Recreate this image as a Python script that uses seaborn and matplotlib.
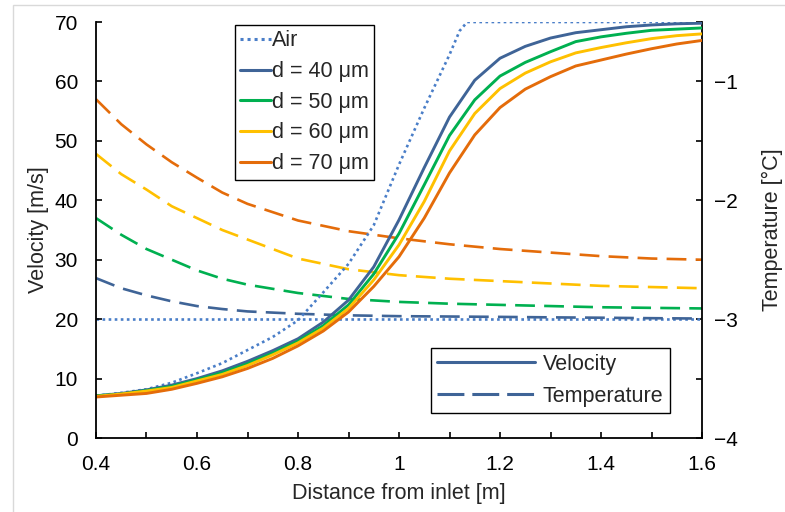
import numpy as np
import pandas as pd
import seaborn as sns
import matplotlib
matplotlib.use("Agg")
import matplotlib.pyplot as plt
from matplotlib.lines import Line2D
from matplotlib.patches import Rectangle
from matplotlib.ticker import MultipleLocator

# ---------------- data ----------------
x = [0.4, 0.45, 0.5, 0.55, 0.6, 0.65, 0.7, 0.75, 0.8, 0.85, 0.9, 0.95, 1.0, 1.05,
     1.1, 1.15, 1.2, 1.25, 1.3, 1.35, 1.4, 1.45, 1.5, 1.55, 1.6]
vel_d40 = [7.1, 7.5, 8.1, 8.9, 10.0, 11.3, 12.9, 14.7, 16.7, 19.5, 23.2, 28.8, 36.7, 45.5,
           54.0, 60.2, 63.9, 65.9, 67.3, 68.2, 68.7, 69.2, 69.5, 69.7, 69.8]
vel_d50 = [7.1, 7.4, 8.0, 8.7, 9.8, 11.0, 12.5, 14.3, 16.3, 18.9, 22.4, 27.6, 34.4, 42.6,
           50.9, 56.9, 60.9, 63.2, 65.0, 66.7, 67.5, 68.1, 68.6, 68.8, 69.0]
vel_d60 = [7.0, 7.4, 7.9, 8.5, 9.6, 10.7, 12.2, 14.0, 16.0, 18.5, 21.8, 26.6, 32.5, 39.8,
           48.3, 54.6, 58.8, 61.4, 63.3, 64.8, 65.7, 66.5, 67.2, 67.7, 68.0]
vel_d70 = [6.9, 7.2, 7.5, 8.2, 9.2, 10.3, 11.7, 13.4, 15.5, 18.0, 21.2, 25.5, 30.5, 37.0,
           44.6, 51.0, 55.6, 58.7, 60.8, 62.6, 63.6, 64.6, 65.5, 66.3, 66.9]

x_air = [0.4, 0.45, 0.5, 0.55, 0.6, 0.65, 0.7, 0.75, 0.8, 0.85, 0.9, 0.95, 1.0, 1.05,
         1.1, 1.12, 1.135, 1.6]
vel_air = [7.1, 7.6, 8.2, 9.3, 10.9, 12.6, 14.8, 17.0, 19.8, 24.5, 29.3, 35.8, 46.0, 55.5,
           64.5, 68.5, 70.0, 70.0]

x_t = [0.4, 0.45, 0.5, 0.55, 0.6, 0.65, 0.7, 0.8, 0.9, 1.0, 1.1, 1.2, 1.3, 1.4, 1.5, 1.6]
temp_air = [-3.0] * len(x_t)
temp_d40 = [-2.655, -2.74, -2.80, -2.85, -2.89, -2.915, -2.935, -2.955, -2.968, -2.975,
            -2.978, -2.981, -2.985, -2.988, -2.992, -2.995]
temp_d50 = [-2.15, -2.29, -2.41, -2.50, -2.59, -2.66, -2.71, -2.78, -2.83, -2.855,
            -2.87, -2.88, -2.89, -2.90, -2.905, -2.91]
temp_d60 = [-1.61, -1.78, -1.91, -2.05, -2.15, -2.25, -2.33, -2.49, -2.58, -2.63,
            -2.66, -2.68, -2.70, -2.72, -2.73, -2.74]
temp_d70 = [-1.15, -1.36, -1.53, -1.68, -1.81, -1.935, -2.03, -2.17, -2.26, -2.32,
            -2.37, -2.41, -2.44, -2.47, -2.49, -2.50]

series_names = ["Air", "d = 40 μm", "d = 50 μm", "d = 60 μm", "d = 70 μm"]
x_ticks = [0.4, 0.6, 0.8, 1.0, 1.2, 1.4, 1.6]
x_tick_labels = ["0.4", "0.6", "0.8", "1", "1.2", "1.4", "1.6"]
v_ticks = [0, 10, 20, 30, 40, 50, 60, 70]
t_ticks = [-4, -3, -2, -1]

# ---------------- style ----------------
sns.set_style("ticks")
plt.rcParams["font.family"] = ["Liberation Sans", "DejaVu Sans"]
plt.rcParams["axes.unicode_minus"] = True

colors = {
    "Air": "#4A7EC8",
    "d = 40 μm": "#3F6497",
    "d = 50 μm": "#00B050",
    "d = 60 μm": "#FFC000",
    "d = 70 μm": "#E46C0A",
}
FS_TICK = 15
FS = 15.5
LW = 1.9
DASH = (0, (7.5, 3.5))
DOT = (0, (1.0, 1.3))

fig = plt.figure(figsize=(7.85, 5.12), dpi=100)
ax = fig.add_axes([96 / 785, 1 - 438 / 512, 606 / 785, 416 / 512])
ax2 = ax.twinx()

vel_sets = [(x_air, vel_air), (x, vel_d40), (x, vel_d50), (x, vel_d60), (x, vel_d70)]
temp_sets = [temp_air, temp_d40, temp_d50, temp_d60, temp_d70]

for name, tv in zip(series_names, temp_sets):
    df = pd.DataFrame({"x": x_t, "y": tv})
    ls = DOT if name == "Air" else DASH
    sns.lineplot(data=df, x="x", y="y", ax=ax2, color=colors[name], lw=LW,
                 linestyle=ls, legend=False, estimator=None, sort=False)

for name, (xs, vs) in zip(series_names, vel_sets):
    df = pd.DataFrame({"x": xs, "y": vs})
    ls = DOT if name == "Air" else "-"
    sns.lineplot(data=df, x="x", y="y", ax=ax, color=colors[name],
                 lw=LW if name == "Air" else 2.1,
                 linestyle=ls, legend=False, estimator=None, sort=False)

ax.set_zorder(ax2.get_zorder() + 1)
ax.patch.set_visible(False)

ax.set_xlim(0.4, 1.6)
ax.set_ylim(0, 70)
ax2.set_ylim(-4, -0.5)
ax.set_xticks(x_ticks)
ax.set_xticklabels(x_tick_labels)
ax.xaxis.set_minor_locator(MultipleLocator(0.1))
ax.set_yticks(v_ticks)
ax2.set_yticks(t_ticks)
ax2.yaxis.set_minor_locator(MultipleLocator(0.5))

for a in (ax, ax2):
    for s in a.spines.values():
        s.set_visible(False)
ax.spines["left"].set_visible(True)
ax.spines["bottom"].set_visible(True)
ax2.spines["right"].set_visible(True)
for s in ("left", "bottom"):
    ax.spines[s].set_linewidth(1.3)
    ax.spines[s].set_color("black")
ax2.spines["right"].set_linewidth(1.3)
ax2.spines["right"].set_color("black")

ax.tick_params(axis="x", which="both", direction="in", length=4.2, width=1.2,
               labelsize=FS_TICK, pad=12, colors="black")
ax.tick_params(axis="y", which="both", direction="in", length=4.2, width=1.2,
               labelsize=FS_TICK, pad=13, colors="black")
ax2.tick_params(axis="y", which="both", direction="in", length=4.2, width=1.2,
                labelsize=FS_TICK, pad=9, colors="black")

ax.set_xlabel("Distance from inlet [m]", fontsize=FS)
ax.set_ylabel("Velocity [m/s]", fontsize=FS)
ax2.set_ylabel("Temperature [°C]", fontsize=FS)
ax.xaxis.set_label_coords(0.5, -0.108)
ax.yaxis.set_label_coords(-0.078, 0.5)
ax2.yaxis.set_label_coords(1.099, 0.5)

# legend 1 - series
h1 = [Line2D([], [], color=colors[n], lw=2.2, linestyle=(DOT if n == "Air" else "-"))
      for n in series_names]
leg1 = ax.legend(h1, series_names, loc="upper left",
                 bbox_to_anchor=((235 - 96) / 606, 1 - 3 / 416),
                 fontsize=FS, handlelength=1.4, handletextpad=0.05, labelspacing=0.45,
                 borderpad=0.25, borderaxespad=0, frameon=True, fancybox=False)
leg1.get_frame().set_edgecolor("black")
leg1.get_frame().set_linewidth(1.0)
leg1.get_frame().set_alpha(1)
ax.add_artist(leg1)

# legend 2 - line types
h2 = [Line2D([], [], color=colors["d = 40 μm"], lw=2.2, linestyle="-"),
      Line2D([], [], color=colors["d = 40 μm"], lw=2.2, linestyle=(0, (8.8, 2.6)))]
leg2 = ax.legend(h2, ["Velocity", "Temperature"], loc="upper left",
                 bbox_to_anchor=((431 - 96) / 606, (438 - 348) / 416),
                 fontsize=FS, handlelength=4.55, handletextpad=0.37, labelspacing=0.5,
                 borderpad=0.28, borderaxespad=0, frameon=True, fancybox=False)
leg2.get_frame().set_edgecolor("black")
leg2.get_frame().set_linewidth(1.0)
leg2.get_frame().set_alpha(1)

# light figure frame
fig.patches.append(Rectangle((13 / 785, -0.05), 1.2, 1.05 - 5 / 512, transform=fig.transFigure,
                             fill=False, edgecolor="#D9D9D9", lw=1.0))

fig.savefig("out.png", dpi=100)
